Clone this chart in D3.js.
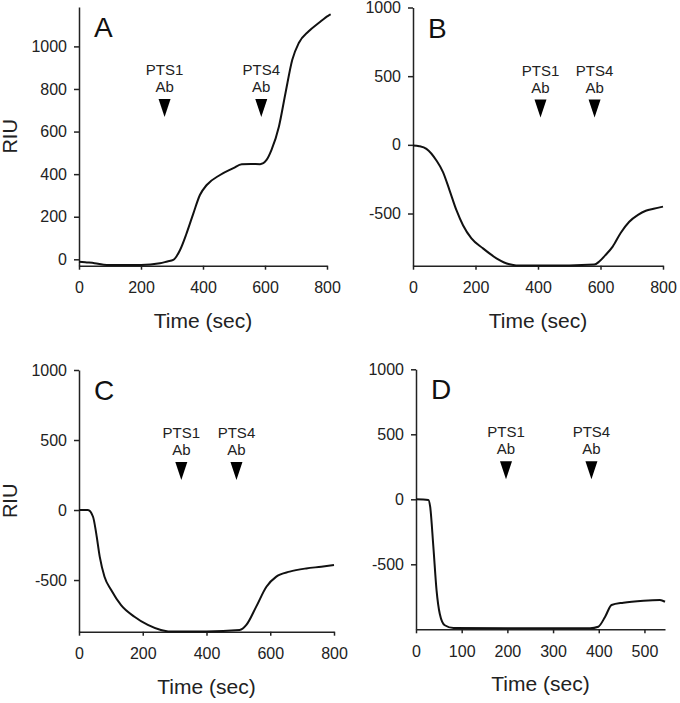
<!DOCTYPE html>
<html><head><meta charset="utf-8">
<script src="https://cdn.jsdelivr.net/npm/d3@7"></script>
<style>body{margin:0;background:#fff} svg{display:block;font-family:"Liberation Sans",Arial,sans-serif}</style>
</head><body><svg id="c" width="680" height="703"></svg>
<script>
// ---- data ----
const timeA=[0,20,50,90,150,200,261,285,304,326,347,369,390,412,455,498,525,555,584,605,621,645,666,688,709,741,773,805,812];
const riuA =[-11,-14,-18,-27,-27,-27,-19,-10,-3,44,122,216,302,349,396,428,447,448,447,467,514,624,780,937,1016,1071,1110,1145,1150];
const timeB=[0,20,43,75,96,117,139,160,187,224,267,309,330,400,500,580,596,615,639,665,692,720,745,770,800];
const riuB =[-5,-10,-29,-114,-198,-331,-476,-585,-681,-754,-826,-870,-878,-878,-878,-872,-850,-805,-741,-640,-560,-510,-480,-465,-450];
const timeC=[0,28,44,54,65,80,101,132,174,216,257,280,400,504,525,556,588,619,661,713,760,800];
const riuC =[0,0,-48,-167,-333,-476,-571,-679,-762,-821,-857,-867,-867,-857,-821,-690,-548,-476,-440,-417,-405,-393];
const timeD=[0,27,31,38,45,52,63,82,200,381,399,414,428,454,498,534,545];
const riuD =[0,-5,-57,-365,-700,-880,-969,-990,-992,-992,-980,-903,-813,-795,-780,-775,-788];

const arrowsA=[276,588], arrowsB=[408,581], arrowsC=[321,494], arrowsD=[197,384];
const arrowLabels=["PTS1","PTS4"];
const arrowSub="Ab";
const panelLetters=["A","B","C","D"];
const xTicks800=[0,200,400,600,800];
const xTicksD=[0,100,200,300,400,500];
const yTicksA=[0,200,400,600,800,1000];
const yTicksBCD=[-500,0,500,1000];
const xTitle="Time (sec)", yTitle="RIU";

// ---- layout ----
const panels=[
 {t:timeA,v:riuA,arr:arrowsA,x0:79,x1:327,yb:265.7,yt:7,xd:[0,800],yd:[-30,1185],xt:xTicks800,yt2:yTicksA,riu:true},
 {t:timeB,v:riuB,arr:arrowsB,x0:413,x1:663,yb:265.7,yt:7.5,xd:[0,800],yd:[-880,1000],xt:xTicks800,yt2:yTicksBCD,riu:false},
 {t:timeC,v:riuC,arr:arrowsC,x0:79,x1:334,yb:631.7,yt:370,xd:[0,800],yd:[-869,1000],xt:xTicks800,yt2:yTicksBCD,riu:true},
 {t:timeD,v:riuD,arr:arrowsD,x0:416,x1:665,yb:629.3,yt:369.3,xd:[0,545],yd:[-1000,1000],xt:xTicksD,yt2:yTicksBCD,riu:false}
];

const fmt=d=>String(d);
const svg=d3.select("#c");
panels.forEach((p,i)=>{
  const x=d3.scaleLinear().domain(p.xd).range([p.x0,p.x1]);
  const y=d3.scaleLinear().domain(p.yd).range([p.yb,p.yt]);
  const g=svg.append("g");
  const xa=g.append("g").attr("transform",`translate(0,${p.yb})`)
    .call(d3.axisBottom(x).tickValues(p.xt).tickSize(4).tickSizeOuter(0).tickPadding(12).tickFormat(fmt));
  const ya=g.append("g").attr("transform",`translate(${p.x0},0)`)
    .call(d3.axisLeft(y).tickValues(p.yt2).tickSize(5).tickSizeOuter(0).tickPadding(7).tickFormat(fmt));
  [xa,ya].forEach(a=>{
    a.attr("font-size",16).attr("font-family","Liberation Sans, Arial, sans-serif");
    a.selectAll("path,line").attr("stroke","#222").attr("stroke-width",1.5);
    a.selectAll("text").attr("fill","#222");
  });
  const pts=p.t.map((d,k)=>[d,p.v[k]]);
  g.append("path").datum(pts).attr("fill","none").attr("stroke","#111").attr("stroke-width",2)
    .attr("d",d3.line().x(d=>x(d[0])).y(d=>y(d[1])).curve(d3.curveMonotoneX));
  // arrows
  p.arr.forEach((a,k)=>{
    const ax=x(a);
    g.append("text").attr("x",ax).attr("y",p.yt+68).attr("text-anchor","middle").attr("font-size",15).attr("fill","#222").text(arrowLabels[k]);
    g.append("text").attr("x",ax).attr("y",p.yt+85).attr("text-anchor","middle").attr("font-size",15).attr("fill","#222").text(arrowSub);
    g.append("path").attr("d",`M${ax-6},${p.yt+92}L${ax+6},${p.yt+92}L${ax},${p.yt+110}Z`).attr("fill","#000");
  });
  g.append("text").attr("x",p.x0+15).attr("y",p.yt+30).attr("font-size",28).attr("fill","#111").text(panelLetters[i]);
  g.append("text").attr("x",(p.x0+p.x1)/2).attr("y",p.yb+62).attr("text-anchor","middle").attr("font-size",21).attr("fill","#222").text(xTitle);
  if(p.riu){
    const cy=(p.yb+p.yt)/2;
    g.append("text").attr("transform",`translate(17,${cy}) rotate(-90)`).attr("text-anchor","middle").attr("font-size",20).attr("fill","#222").text(yTitle);
  }
});
</script></body></html>
